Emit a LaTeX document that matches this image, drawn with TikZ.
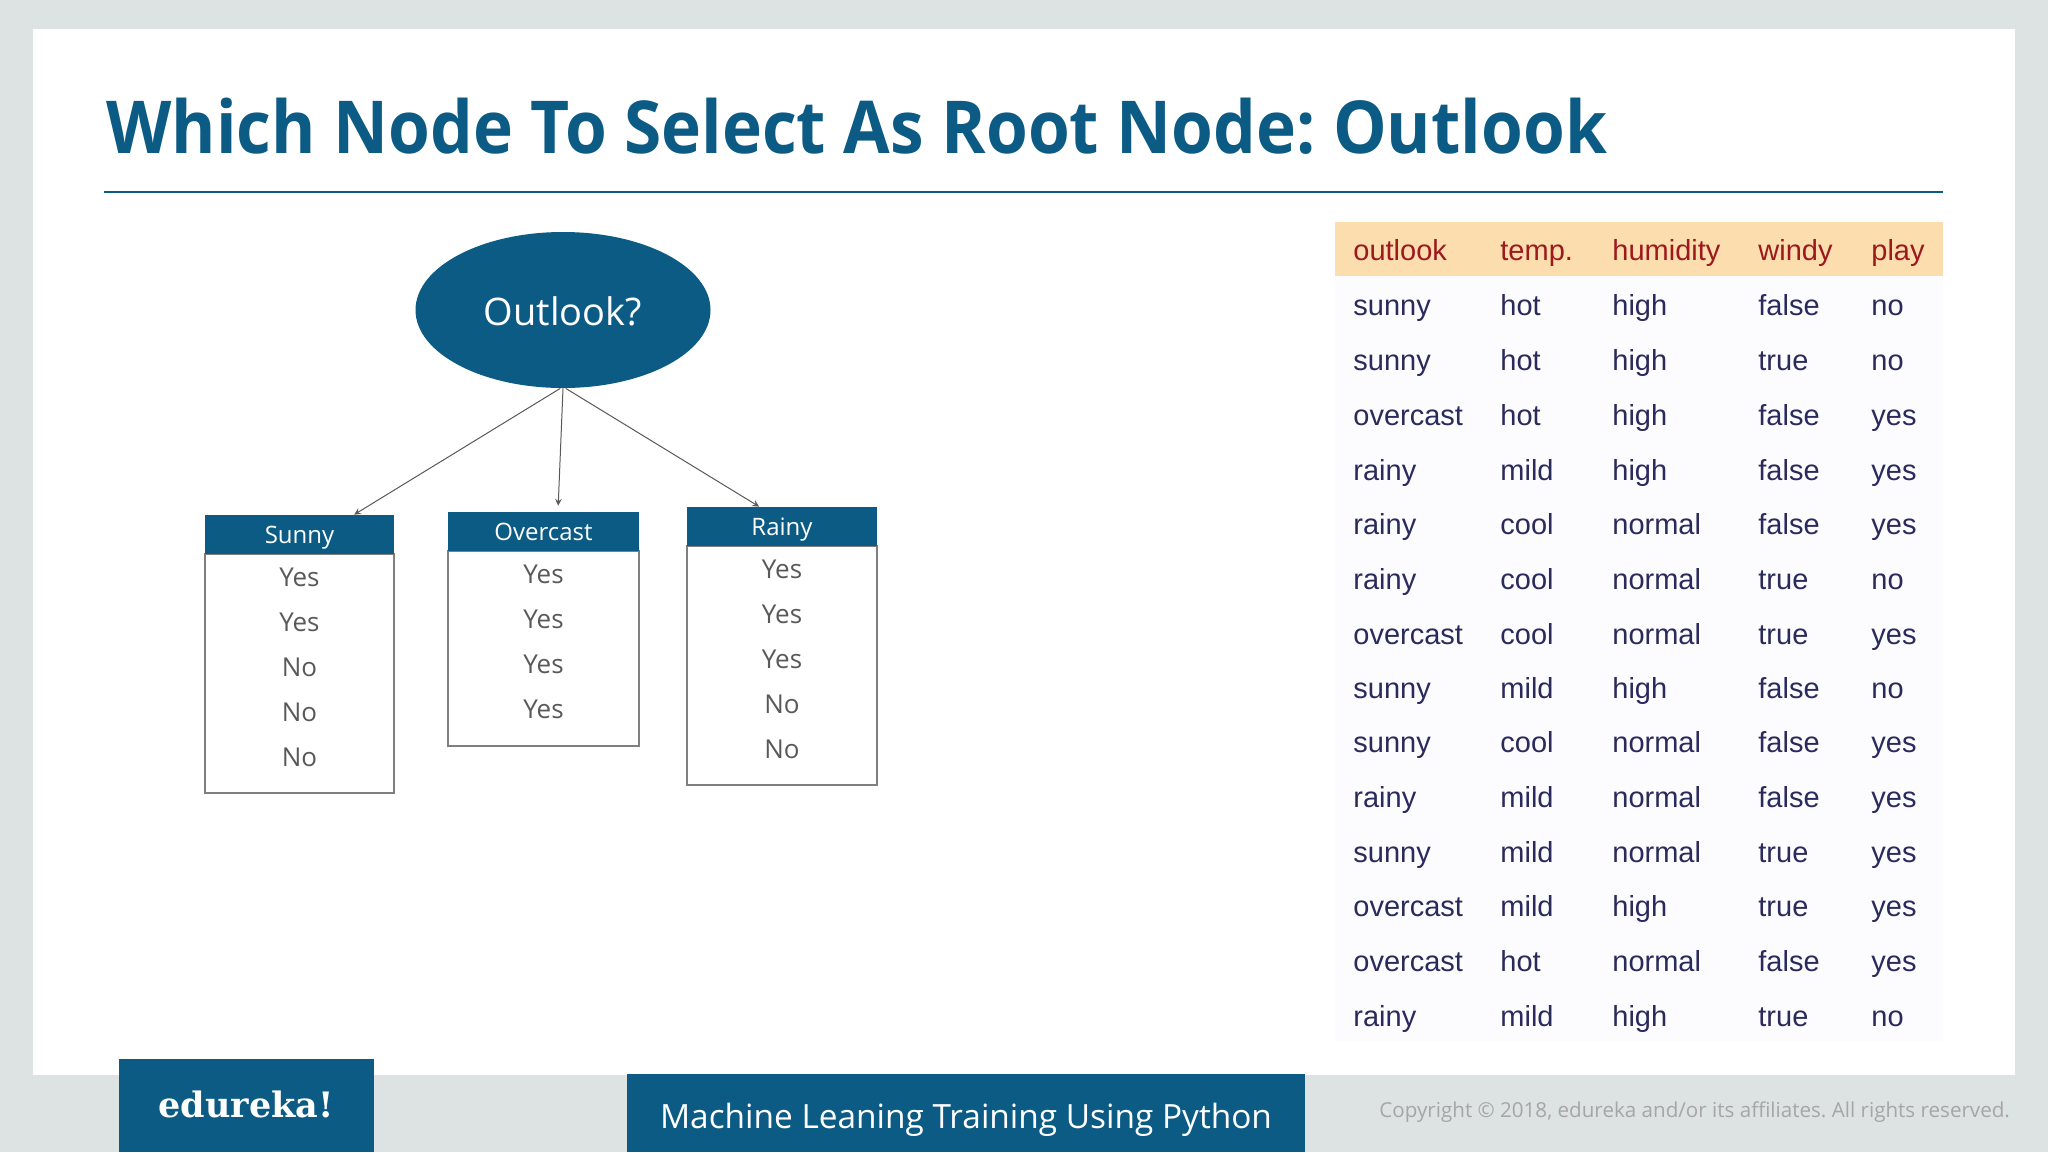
\documentclass[tikz,border=0pt]{standalone}
\usepackage{fontspec}
\setmainfont{Open Sans}
\newfontfamily\titlefont[FakeStretch=0.926]{Open Sans}
\newfontfamily\tablefont{Liberation Sans}
\newfontfamily\logofont{DejaVu Serif}
\usetikzlibrary{arrows,shapes.geometric,positioning}
\frenchspacing
\definecolor{slideblue}{HTML}{0B5B85}
\definecolor{slidegrey}{HTML}{DDE3E2}
\definecolor{boxline}{HTML}{7F7F7F}
\definecolor{rowtext}{HTML}{595959}
\definecolor{bandfill}{HTML}{FBDDAE}
\definecolor{bandtext}{HTML}{9C1A1E}
\definecolor{celltext}{HTML}{2A2A5C}
\begin{document}
\begin{tikzpicture}
[x=0.5pt,y=-0.5pt,
root/.style={ellipse,fill=slideblue,text=white,inner sep=0pt,minimum width=147.5pt,minimum height=78pt,text height=15.4pt,text depth=0pt,font=\fontsize{19}{23}\selectfont},
head/.style={rectangle,fill=slideblue,text=white,inner sep=0pt,minimum height=19.5pt,text height=9pt,text depth=0pt,font=\fontsize{12}{14}\selectfont},
body/.style={rectangle,draw=boxline,fill=white,line width=0.6pt,inner sep=0pt},
entry/.style={text=rowtext,inner sep=0pt,font=\fontsize{13}{15}\selectfont},
link/.style={draw=rowtext,line width=0.5pt,-stealth},
band/.style={anchor=base west,inner sep=0pt,text=bandtext,font=\tablefont\fontsize{14.5}{17}\selectfont},
cell/.style={anchor=base west,inner sep=0pt,text=celltext,font=\tablefont\fontsize{14.5}{17}\selectfont}]
% slide
\fill[slidegrey] (0,0) rectangle (2048,1152);
\fill[white] (33,29) rectangle (2015,1075);
\useasboundingbox (0,0) rectangle (2048,1152);
\node at (106,153) [anchor=base west,inner sep=0pt,text=slideblue,font=\titlefont\bfseries\fontsize{36.5}{44}\selectfont] (title) {Which Node To Select As Root Node: Outlook};
\draw[slideblue,line width=0.8pt] (104,192) -- (1943,192);
% tree
\node at (563,310) [root] (outlook) {Outlook?};
\node at (299.5,673.5) [body,minimum width=94.5pt,minimum height=119.5pt] (sunnybody) {};
\node at (299.5,534.5) [head,minimum width=94.5pt] (sunnyhead) {Sunny};
\node at (543.5,648.5) [body,minimum width=95.5pt,minimum height=97.5pt] (overcastbody) {};
\node at (543.5,531.5) [head,minimum width=95.5pt] (overcasthead) {Overcast};
\node at (782,665.5) [body,minimum width=95pt,minimum height=119.5pt] (rainybody) {};
\node at (782,526.5) [head,minimum width=95pt] (rainyhead) {Rainy};
\foreach \rowy/\rowtext [count=\i] in {577/Yes,622/Yes,667/No,712/No,757/No}
  \node at (299.5,\rowy) [entry] (sunny\i) {\rowtext};
\foreach \rowy/\rowtext [count=\i] in {574/Yes,619/Yes,664/Yes,709/Yes}
  \node at (543.5,\rowy) [entry] (overcast\i) {\rowtext};
\foreach \rowy/\rowtext [count=\i] in {569/Yes,614/Yes,659/Yes,704/No,749/No}
  \node at (782,\rowy) [entry] (rainy\i) {\rowtext};
\draw[link] (outlook.268) -- (sunnyhead.20);
\draw[link,shorten >=3pt] (outlook.south) -- (overcasthead.54.3);
\draw[link] (outlook.272) -- (rainyhead.139.7);
% table
\fill[white!99!blue] (1335,276) rectangle (1943,1041);
\fill[bandfill] (1335,222) rectangle (1943,276);
\node at (1353,260) [band] (houtlook) {outlook};
\node at (1500,260) [band] (htemp) {temp.};
\node at (1612,260) [band] (hhumidity) {humidity};
\node at (1758,260) [band] (hwindy) {windy};
\node at (1871,260) [band] (hplay) {play};
\foreach \rowy/\a/\b/\c/\d/\e [count=\i] in {
  315/sunny/hot/high/false/no,
  370/sunny/hot/high/true/no,
  425/overcast/hot/high/false/yes,
  480/rainy/mild/high/false/yes,
  534/rainy/cool/normal/false/yes,
  589/rainy/cool/normal/true/no,
  644/overcast/cool/normal/true/yes,
  698/sunny/mild/high/false/no,
  752/sunny/cool/normal/false/yes,
  807/rainy/mild/normal/false/yes,
  862/sunny/mild/normal/true/yes,
  916/overcast/mild/high/true/yes,
  971/overcast/hot/normal/false/yes,
  1026/rainy/mild/high/true/no}{
  \node at (1353,\rowy) [cell] (a\i) {\a};
  \node at (1500,\rowy) [cell] (b\i) {\b};
  \node at (1612,\rowy) [cell] (c\i) {\c};
  \node at (1758,\rowy) [cell] (d\i) {\d};
  \node at (1871,\rowy) [cell] (e\i) {\e};
}
% footer
\fill[slideblue] (119,1059) rectangle (374,1152);
\fill[slideblue] (627,1074) rectangle (1305,1152);
\node at (246,1104) [inner sep=0pt,text=white,font=\logofont\bfseries\fontsize{17.5}{21}\selectfont] (logo) {edureka!};
\node at (966,1120) [inner sep=0pt,text=white,font=\fontsize{16.7}{20}\selectfont] (course) {Machine Leaning Training Using Python};
\node at (1379,1117) [anchor=base west,inner sep=0pt,text=black!35,font=\fontsize{10.3}{12}\selectfont] (copyright) {Copyright © 2018, edureka and/or its affiliates. All rights reserved.};
\end{tikzpicture}
\end{document}
